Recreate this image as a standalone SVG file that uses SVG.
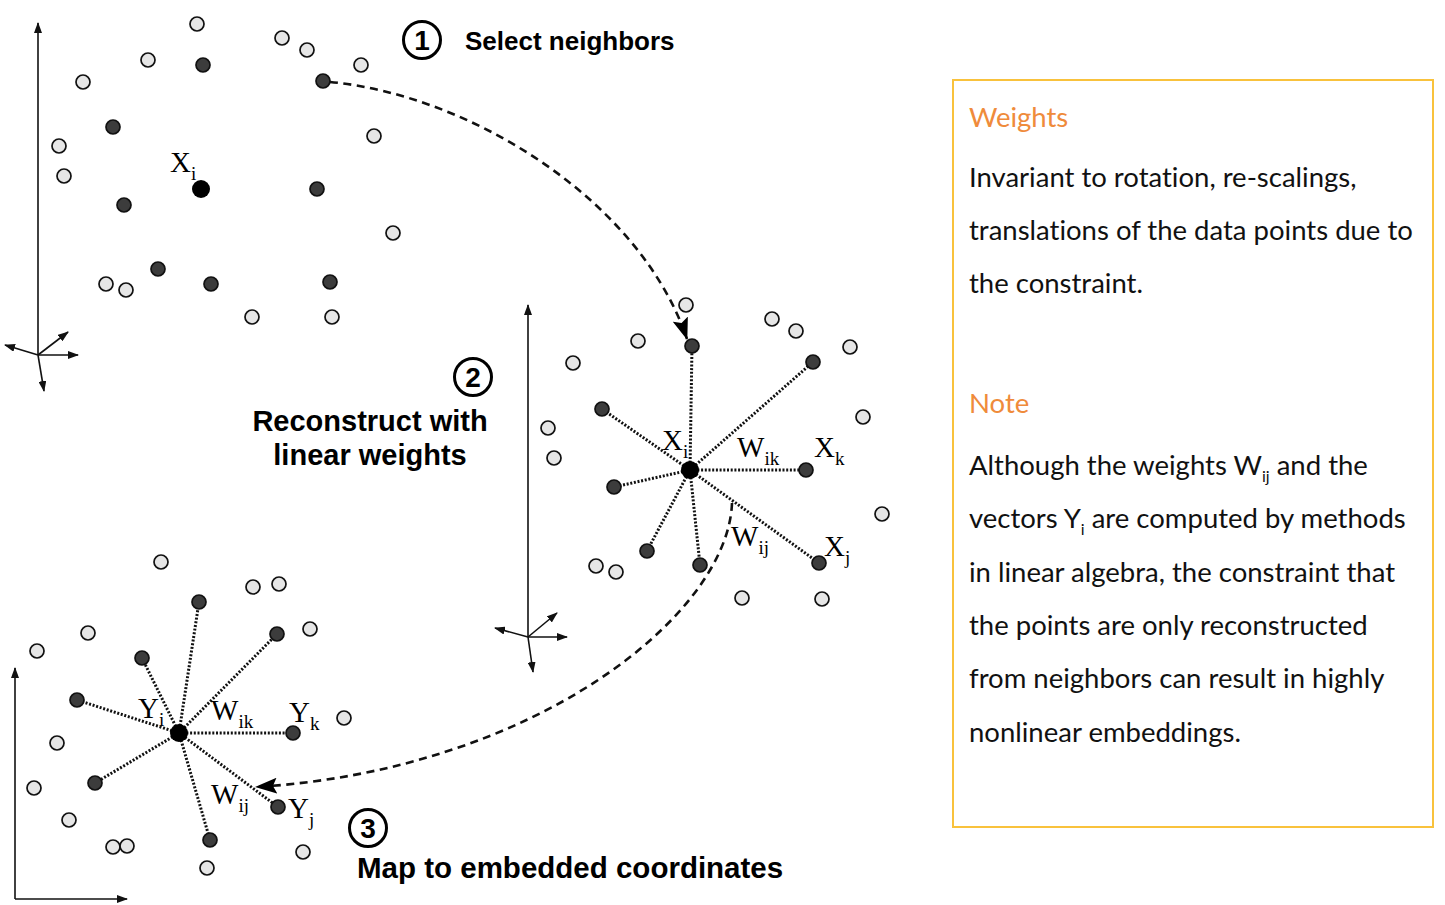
<svg xmlns="http://www.w3.org/2000/svg" width="1445" height="905" viewBox="0 0 1445 905">
<style>
.lt{fill:#e6e6e6;stroke:#111;stroke-width:1.7}
.dk{fill:#3c3c3c;stroke:#111;stroke-width:1.7}
.ct{fill:#000}
.ax{stroke:#111;stroke-width:1.6;fill:none}
.dot{stroke:#111;stroke-width:3;stroke-dasharray:2 1.7;fill:none}
.dash{stroke:#111;stroke-width:2.6;stroke-dasharray:8 5.5;fill:none}
.ser{font-family:"Liberation Serif","Times New Roman",serif;font-size:29px;fill:#000}
.sub{font-size:19px}
.step{font-family:"Liberation Sans",Arial,sans-serif;font-weight:bold;fill:#000}
.num{stroke:#000;stroke-width:3;fill:#fff}
.body{font-family:Lato,"Open Sans",sans-serif;font-size:27.5px;fill:#111;font-variant-ligatures:none}
.ttl{font-family:Lato,"Open Sans",sans-serif;font-size:27.5px;fill:#EF8B3B;font-variant-ligatures:none}
</style>
<defs>
<marker id="ah" markerUnits="userSpaceOnUse" markerWidth="11" markerHeight="8" refX="10" refY="4" orient="auto"><path d="M0,0 L11,4 L0,8 z" fill="#111"/></marker>
<marker id="big" markerUnits="userSpaceOnUse" markerWidth="22" markerHeight="16" refX="21" refY="8" orient="auto"><path d="M0,0 L22,8 L0,16 L4,8 z" fill="#000"/></marker>
</defs>
<rect width="1445" height="905" fill="#fff"/>

<g id="connectors">
<path class="dash" d="M330,82 C470,95 640,200 687,339" marker-end="url(#big)"/>
<path class="dash" d="M732,503 C728,615 535,770 256,787" marker-end="url(#big)"/>
</g>

<g id="space-x-high">
<g id="axes-top">
<line class="ax" x1="38" y1="355" x2="38" y2="23" marker-end="url(#ah)"/>
<line class="ax" x1="38" y1="355" x2="5" y2="345" marker-end="url(#ah)"/>
<line class="ax" x1="38" y1="355" x2="68" y2="332" marker-end="url(#ah)"/>
<line class="ax" x1="38" y1="355" x2="78" y2="355" marker-end="url(#ah)"/>
<line class="ax" x1="38" y1="355" x2="44" y2="391" marker-end="url(#ah)"/>
</g>
<g id="points-top">
<circle class="lt" cx="197" cy="24" r="7"/>
<circle class="lt" cx="282" cy="38" r="7"/>
<circle class="lt" cx="307" cy="50" r="7"/>
<circle class="lt" cx="361" cy="65" r="7"/>
<circle class="lt" cx="148" cy="60" r="7"/>
<circle class="lt" cx="83" cy="82" r="7"/>
<circle class="lt" cx="374" cy="136" r="7"/>
<circle class="lt" cx="59" cy="146" r="7"/>
<circle class="lt" cx="64" cy="176" r="7"/>
<circle class="lt" cx="393" cy="233" r="7"/>
<circle class="lt" cx="106" cy="284" r="7"/>
<circle class="lt" cx="126" cy="290" r="7"/>
<circle class="lt" cx="252" cy="317" r="7"/>
<circle class="lt" cx="332" cy="317" r="7"/>
<circle class="dk" cx="203" cy="65" r="7"/>
<circle class="dk" cx="323" cy="81" r="7"/>
<circle class="dk" cx="113" cy="127" r="7"/>
<circle class="dk" cx="317" cy="189" r="7"/>
<circle class="dk" cx="124" cy="205" r="7"/>
<circle class="dk" cx="158" cy="269" r="7"/>
<circle class="dk" cx="211" cy="284" r="7"/>
<circle class="dk" cx="330" cy="282" r="7"/>
<circle class="ct" cx="201" cy="189" r="9"/>
</g>
<text class="ser" x="170" y="172">X<tspan class="sub" dy="8">i</tspan></text>
</g>

<g id="step1">
<circle class="num" cx="422" cy="40" r="18.5"/>
<text class="step" x="422" y="50" font-size="28" text-anchor="middle">1</text>
<text class="step" x="465" y="50" font-size="26">Select neighbors</text>
</g>

<g id="space-x-recon">
<g id="axes-mid">
<line class="ax" x1="528" y1="637" x2="528" y2="305" marker-end="url(#ah)"/>
<line class="ax" x1="528" y1="637" x2="495" y2="628" marker-end="url(#ah)"/>
<line class="ax" x1="528" y1="637" x2="557" y2="613" marker-end="url(#ah)"/>
<line class="ax" x1="528" y1="637" x2="567" y2="637" marker-end="url(#ah)"/>
<line class="ax" x1="528" y1="637" x2="533" y2="672" marker-end="url(#ah)"/>
</g>
<g id="edges-mid">
<line class="dot" x1="690" y1="470" x2="692" y2="346"/>
<line class="dot" x1="690" y1="470" x2="813" y2="362"/>
<line class="dot" x1="690" y1="470" x2="602" y2="409"/>
<line class="dot" x1="690" y1="470" x2="806" y2="470"/>
<line class="dot" x1="690" y1="470" x2="614" y2="487"/>
<line class="dot" x1="690" y1="470" x2="647" y2="551"/>
<line class="dot" x1="690" y1="470" x2="700" y2="565"/>
<line class="dot" x1="690" y1="470" x2="819" y2="563"/>
</g>
<g id="points-mid">
<circle class="lt" cx="686" cy="305" r="7"/>
<circle class="lt" cx="772" cy="319" r="7"/>
<circle class="lt" cx="796" cy="331" r="7"/>
<circle class="lt" cx="850" cy="347" r="7"/>
<circle class="lt" cx="638" cy="341" r="7"/>
<circle class="lt" cx="573" cy="363" r="7"/>
<circle class="lt" cx="863" cy="417" r="7"/>
<circle class="lt" cx="548" cy="428" r="7"/>
<circle class="lt" cx="554" cy="458" r="7"/>
<circle class="lt" cx="882" cy="514" r="7"/>
<circle class="lt" cx="596" cy="566" r="7"/>
<circle class="lt" cx="616" cy="572" r="7"/>
<circle class="lt" cx="742" cy="598" r="7"/>
<circle class="lt" cx="822" cy="599" r="7"/>
<circle class="dk" cx="692" cy="346" r="7"/>
<circle class="dk" cx="813" cy="362" r="7"/>
<circle class="dk" cx="602" cy="409" r="7"/>
<circle class="dk" cx="806" cy="470" r="7"/>
<circle class="dk" cx="614" cy="487" r="7"/>
<circle class="dk" cx="647" cy="551" r="7"/>
<circle class="dk" cx="700" cy="565" r="7"/>
<circle class="dk" cx="819" cy="563" r="7"/>
<circle class="ct" cx="690" cy="470" r="9"/>
</g>
<text class="ser" x="662" y="450">X<tspan class="sub" dy="8">i</tspan></text>
<text class="ser" x="737" y="457">W<tspan class="sub" dy="8">ik</tspan></text>
<text class="ser" x="814" y="457">X<tspan class="sub" dy="8">k</tspan></text>
<text class="ser" x="731" y="546">W<tspan class="sub" dy="8">ij</tspan></text>
<text class="ser" x="824" y="556">X<tspan class="sub" dy="8">j</tspan></text>
</g>

<g id="step2">
<circle class="num" cx="473" cy="377" r="18.5"/>
<text class="step" x="473" y="387" font-size="28" text-anchor="middle">2</text>
<text class="step" x="370" y="431" font-size="29" text-anchor="middle">Reconstruct with</text>
<text class="step" x="370" y="465" font-size="29" text-anchor="middle">linear weights</text>
</g>

<g id="space-y-embed">
<g id="axes-bot">
<line class="ax" x1="15" y1="899" x2="15" y2="668" marker-end="url(#ah)"/>
<line class="ax" x1="15" y1="899" x2="127" y2="899" marker-end="url(#ah)"/>
</g>
<g id="edges-bot">
<line class="dot" x1="179" y1="733" x2="199" y2="602"/>
<line class="dot" x1="179" y1="733" x2="277" y2="634"/>
<line class="dot" x1="179" y1="733" x2="142" y2="658"/>
<line class="dot" x1="179" y1="733" x2="77" y2="700"/>
<line class="dot" x1="179" y1="733" x2="293" y2="733"/>
<line class="dot" x1="179" y1="733" x2="95" y2="783"/>
<line class="dot" x1="179" y1="733" x2="278" y2="807"/>
<line class="dot" x1="179" y1="733" x2="210" y2="840"/>
</g>
<g id="points-bot">
<circle class="lt" cx="161" cy="562" r="7"/>
<circle class="lt" cx="253" cy="587" r="7"/>
<circle class="lt" cx="279" cy="584" r="7"/>
<circle class="lt" cx="88" cy="633" r="7"/>
<circle class="lt" cx="37" cy="651" r="7"/>
<circle class="lt" cx="310" cy="629" r="7"/>
<circle class="lt" cx="344" cy="718" r="7"/>
<circle class="lt" cx="57" cy="743" r="7"/>
<circle class="lt" cx="34" cy="788" r="7"/>
<circle class="lt" cx="69" cy="820" r="7"/>
<circle class="lt" cx="113" cy="847" r="7"/>
<circle class="lt" cx="127" cy="846" r="7"/>
<circle class="lt" cx="303" cy="852" r="7"/>
<circle class="lt" cx="207" cy="868" r="7"/>
<circle class="dk" cx="199" cy="602" r="7"/>
<circle class="dk" cx="277" cy="634" r="7"/>
<circle class="dk" cx="142" cy="658" r="7"/>
<circle class="dk" cx="77" cy="700" r="7"/>
<circle class="dk" cx="293" cy="733" r="7"/>
<circle class="dk" cx="95" cy="783" r="7"/>
<circle class="dk" cx="278" cy="807" r="7"/>
<circle class="dk" cx="210" cy="840" r="7"/>
<circle class="ct" cx="179" cy="733" r="9"/>
</g>
<text class="ser" x="138" y="718">Y<tspan class="sub" dy="8">i</tspan></text>
<text class="ser" x="211" y="720">W<tspan class="sub" dy="8">ik</tspan></text>
<text class="ser" x="289" y="722">Y<tspan class="sub" dy="8">k</tspan></text>
<text class="ser" x="211" y="804">W<tspan class="sub" dy="8">ij</tspan></text>
<text class="ser" x="288" y="818">Y<tspan class="sub" dy="8">j</tspan></text>
</g>

<g id="step3">
<circle class="num" cx="368" cy="828" r="18.5"/>
<text class="step" x="368" y="838" font-size="28" text-anchor="middle">3</text>
<text class="step" x="357" y="878" font-size="29.5">Map to embedded coordinates</text>
</g>

<g id="note-box">
<rect x="953" y="80" width="480" height="747" fill="none" stroke="#F9C23C" stroke-width="2"/>
<text class="ttl" x="969" y="127">Weights</text>
<text class="body" x="969" y="187">Invariant to rotation, re-scalings,</text>
<text class="body" x="969" y="240">translations of the data points due to</text>
<text class="body" x="969" y="293">the constraint.</text>
<text class="ttl" x="969" y="413">Note</text>
<text class="body" x="969" y="475">Although the weights W<tspan font-size="16" dy="7">ij</tspan><tspan dy="-7"> and the</tspan></text>
<text class="body" x="969" y="528">vectors Y<tspan font-size="16" dy="7">i</tspan><tspan dy="-7"> are computed by methods</tspan></text>
<text class="body" x="969" y="582">in linear algebra, the constraint that</text>
<text class="body" x="969" y="635">the points are only reconstructed</text>
<text class="body" x="969" y="688">from neighbors can result in highly</text>
<text class="body" x="969" y="742">nonlinear embeddings.</text>
</g>
</svg>
